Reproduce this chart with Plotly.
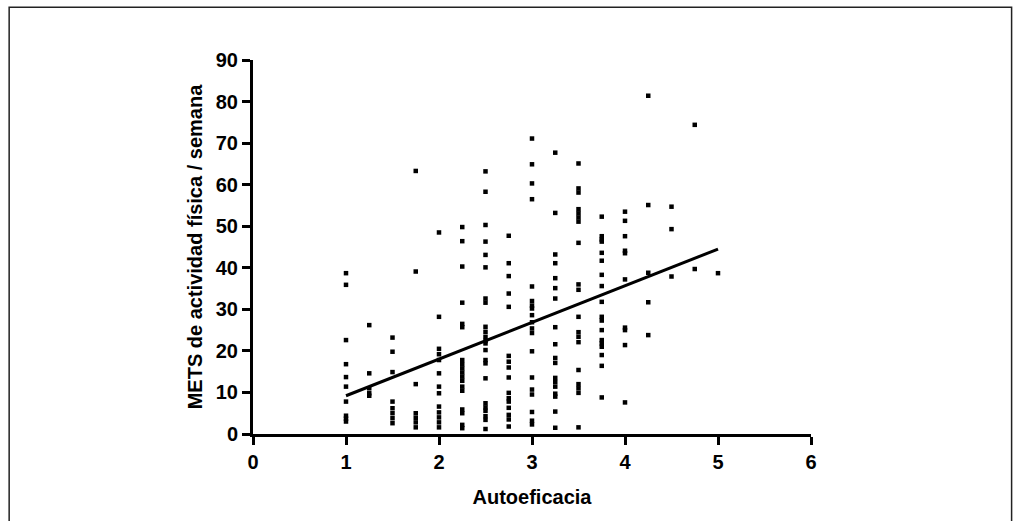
import plotly.graph_objects as go

# Autoeficacia levels and METS values
mets_1_00 = [38.7, 35.9, 22.6, 16.8, 13.7, 11.4, 7.8, 4.4, 3.7, 3.0]
mets_1_25 = [26.2, 14.6, 11.0, 9.8, 9.2]
mets_1_50 = [23.2, 19.8, 14.9, 7.8, 6.2, 5.0, 3.8, 2.6]
mets_1_75 = [63.3, 39.1, 12.0, 5.0, 3.9, 2.8, 1.6]
mets_2_00 = [48.5, 28.2, 20.5, 19.2, 17.8, 14.6, 11.4, 9.8, 6.6, 5.2, 4.0, 2.8, 1.6]
mets_2_25 = [49.8, 46.4, 40.3, 31.6, 26.5, 25.7, 17.8, 16.8, 15.8, 14.8, 13.8, 12.8,
             11.4, 10.4, 5.9, 5.0, 2.2, 1.4]
mets_2_50 = [63.2, 58.3, 50.3, 46.3, 43.1, 40.1, 32.6, 31.6, 25.8, 24.6, 23.4, 22.4,
             21.8, 20.2, 17.8, 17.0, 13.4, 7.4, 6.4, 5.6, 4.3, 3.4, 1.2]
mets_2_75 = [47.7, 41.1, 38.0, 33.8, 30.6, 18.8, 17.4, 16.0, 13.6, 9.9, 8.6, 7.8,
             6.3, 4.6, 3.5, 1.8]
mets_3_00 = [71.1, 64.9, 60.3, 56.5, 35.5, 32.0, 30.9, 30.2, 28.6, 26.9, 25.4, 24.3,
             19.9, 13.6, 10.7, 9.5, 5.3, 3.2, 2.3]
mets_3_25 = [67.7, 53.2, 43.2, 41.1, 37.5, 35.1, 32.6, 25.7, 21.6, 18.3, 17.1, 13.5,
             12.5, 11.4, 9.7, 9.0, 5.4, 1.5]
mets_3_50 = [65.1, 59.1, 58.1, 54.1, 53.1, 52.1, 51.1, 46.0, 36.0, 34.7, 28.2, 24.5,
             23.4, 22.1, 15.4, 12.0, 11.0, 9.9, 1.6]
mets_3_75 = [52.3, 47.6, 46.8, 46.3, 43.6, 41.7, 38.3, 35.6, 31.8, 28.2, 27.3, 25.0,
             22.6, 21.8, 21.0, 19.0, 16.4, 8.8]
mets_4_00 = [53.5, 51.3, 47.6, 44.1, 43.5, 37.2, 25.6, 25.0, 21.4, 7.6]
mets_4_25 = [81.4, 55.1, 38.8, 31.7, 23.8]
mets_4_50 = [54.7, 49.3, 37.9]
mets_4_75 = [74.4, 39.7]
mets_5_00 = [38.7]

autoeficacia_levels = [1.0, 1.25, 1.5, 1.75, 2.0, 2.25, 2.5, 2.75, 3.0, 3.25, 3.5,
                       3.75, 4.0, 4.25, 4.5, 4.75, 5.0]
mets_columns = [mets_1_00, mets_1_25, mets_1_50, mets_1_75, mets_2_00, mets_2_25,
                mets_2_50, mets_2_75, mets_3_00, mets_3_25, mets_3_50, mets_3_75,
                mets_4_00, mets_4_25, mets_4_50, mets_4_75, mets_5_00]

# Regression line endpoints
fit_x = [1.0, 5.0]
fit_y = [9.2, 44.5]

x_ticks = [0, 1, 2, 3, 4, 5, 6]
y_ticks = [0, 10, 20, 30, 40, 50, 60, 70, 80, 90]

xs, ys = [], []
for lvl, col in zip(autoeficacia_levels, mets_columns):
    for v in col:
        xs.append(lvl)
        ys.append(v)

FONT = "Liberation Sans, Arial, sans-serif"

fig = go.Figure()
fig.add_trace(go.Scatter(
    x=xs, y=ys, mode="markers",
    marker=dict(symbol="square", size=4.5, color="black", line=dict(width=0)),
    cliponaxis=False, showlegend=False,
))
fig.add_trace(go.Scatter(
    x=fit_x, y=fit_y, mode="lines",
    line=dict(color="black", width=3),
    cliponaxis=False, showlegend=False,
))

axis_common = dict(
    showgrid=False, zeroline=False,
    showline=True, linecolor="black", linewidth=3,
    ticks="outside", ticklen=8, tickwidth=3, tickcolor="black",
    tickfont=dict(family=FONT, size=20, color="black", weight="bold"),
)

fig.update_layout(
    width=1022, height=521,
    margin=dict(l=253, r=211, t=60, b=87, autoexpand=False),
    paper_bgcolor="white", plot_bgcolor="white",
    xaxis=dict(
        range=[0, 6], tickvals=x_ticks, **axis_common,
        title=dict(text="Autoeficacia", standoff=18,
                   font=dict(family=FONT, size=20, color="black", weight="bold")),
    ),
    yaxis=dict(
        range=[0, 90], tickvals=y_ticks, **axis_common,
        title=dict(text="METS de actividad física / semana", standoff=8,
                   font=dict(family=FONT, size=20, color="black", weight="bold")),
    ),
    shapes=[dict(
        type="rect", xref="paper", yref="paper",
        x0=-0.437, x1=1.3595, y0=-0.25, y1=1.141,
        line=dict(color="#222222", width=1.5), fillcolor="rgba(0,0,0,0)",
        layer="below",
    )],
)

fig.write_html("out.html")
